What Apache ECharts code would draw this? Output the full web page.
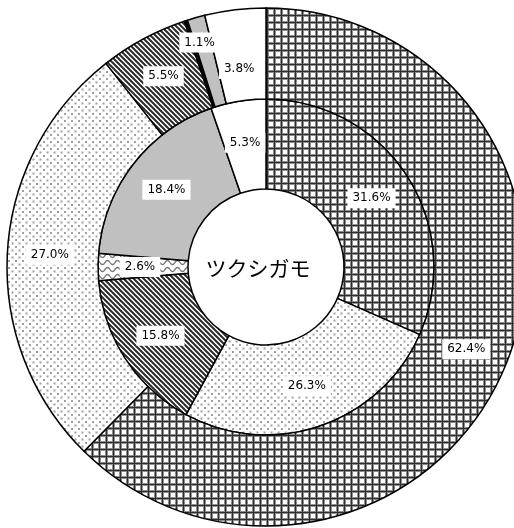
<!DOCTYPE html>
<html>
<head>
<meta charset="utf-8">
<script src="https://cdn.jsdelivr.net/npm/echarts@6/dist/echarts.min.js"></script>
<style>
html,body{margin:0;padding:0;background:#fff;}
#chart{width:514px;height:528px;}
</style>
</head>
<body>
<div id="chart"></div>
<script>
// ---- data ----
const centerLabel = 'ツクシガモ';
const outerCategories = ['cat1', 'cat2', 'cat3', 'cat4', 'cat5', 'cat6'];
const outerValues = [62.4, 27.0, 5.5, 0.2, 1.1, 3.8];
const outerPatterns = ['grid', 'dots', 'hatch', 'black', 'gray', 'white'];
const innerCategories = ['cat1', 'cat2', 'cat3', 'cat7', 'cat5', 'cat6'];
const innerValues = [31.6, 26.3, 15.8, 2.6, 18.4, 5.3];
const innerPatterns = ['grid', 'dots', 'hatch', 'wave', 'gray', 'white'];

// ---- patterns ----
function makeTile(w, h, draw) {
  const c = document.createElement('canvas');
  c.width = w; c.height = h;
  const g = c.getContext('2d');
  g.fillStyle = '#fff'; g.fillRect(0, 0, w, h);
  draw(g, w, h);
  return { image: c, repeat: 'repeat' };
}
const patterns = {
  grid: makeTile(7, 7, (g) => {
    g.fillStyle = '#8c8c8c';
    g.fillRect(0, 0, 1, 7); g.fillRect(2, 0, 1, 7);
    g.fillRect(0, 0, 7, 1); g.fillRect(0, 2, 7, 1);
    g.fillStyle = '#2e2e2e';
    g.fillRect(1, 0, 1, 7); g.fillRect(0, 1, 7, 1);
  }),
  dots: makeTile(7, 7, (g) => {
    g.fillStyle = '#a0a0a0';
    g.fillRect(1, 1, 2, 2); g.fillRect(4.5, 4.5, 2, 2);
  }),
  hatch: makeTile(5, 5, (g) => {
    g.strokeStyle = '#2a2a2a'; g.lineWidth = 2;
    for (let k = -5; k <= 5; k += 5) {
      g.beginPath(); g.moveTo(k - 1, -1); g.lineTo(k + 6, 6); g.stroke();
    }
  }),
  wave: makeTile(10, 7, (g) => {
    g.strokeStyle = '#777'; g.lineWidth = 1.4;
    g.beginPath();
    for (let x = 0; x <= 10; x += 0.5) {
      const y = 3.5 + 2 * Math.sin(x / 10 * Math.PI * 2);
      if (x === 0) g.moveTo(x, y); else g.lineTo(x, y);
    }
    g.stroke();
  }),
  gray: '#c0c0c0',
  white: '#ffffff',
  black: '#000000'
};

function buildData(cats, vals, pats) {
  return vals.map((v, i) => ({
    name: cats[i],
    value: v,
    itemStyle: { color: patterns[pats[i]] },
    label: { show: pats[i] !== 'black' }
  }));
}

const labelStyle = {
  show: true,
  position: 'inside',
  formatter: (p) => p.value.toFixed(1) + '%',
  color: '#000',
  fontSize: 12,
  fontFamily: 'DejaVu Sans, sans-serif',
  backgroundColor: '#fff',
  padding: [4, 5, 4, 5]
};

const chart = echarts.init(document.getElementById('chart'), null, { renderer: 'canvas' });
chart.setOption({
  animation: false,
  backgroundColor: '#fff',
  graphic: [{
    type: 'text',
    x: 258, y: 268,
    z: 100,
    style: {
      text: centerLabel,
      align: 'center', verticalAlign: 'middle',
      textAlign: 'center', textVerticalAlign: 'middle',
      font: '21px "Noto Sans CJK JP", sans-serif',
      fill: '#000'
    }
  }],
  series: [
    {
      type: 'pie',
      center: [266, 267],
      radius: [78, 168],
      startAngle: 90,
      clockwise: true,
      avoidLabelOverlap: false,
      label: labelStyle,
      labelLine: { show: false },
      itemStyle: { borderColor: '#000', borderWidth: 1.5 },
      emphasis: { disabled: true },
      data: buildData(innerCategories, innerValues, innerPatterns)
    },
    {
      type: 'pie',
      center: [266, 267],
      radius: [168, 259],
      startAngle: 90,
      clockwise: true,
      avoidLabelOverlap: false,
      label: labelStyle,
      labelLine: { show: false },
      itemStyle: { borderColor: '#000', borderWidth: 1.5 },
      emphasis: { disabled: true },
      labelLayout: function (p) {
        if (p.dataIndex === 4) return { dx: -8, dy: -16 };
        if (p.dataIndex === 5) return { dx: -1, dy: 17 };
        return {};
      },
      data: buildData(outerCategories, outerValues, outerPatterns)
    }
  ]
});
</script>
</body>
</html>
